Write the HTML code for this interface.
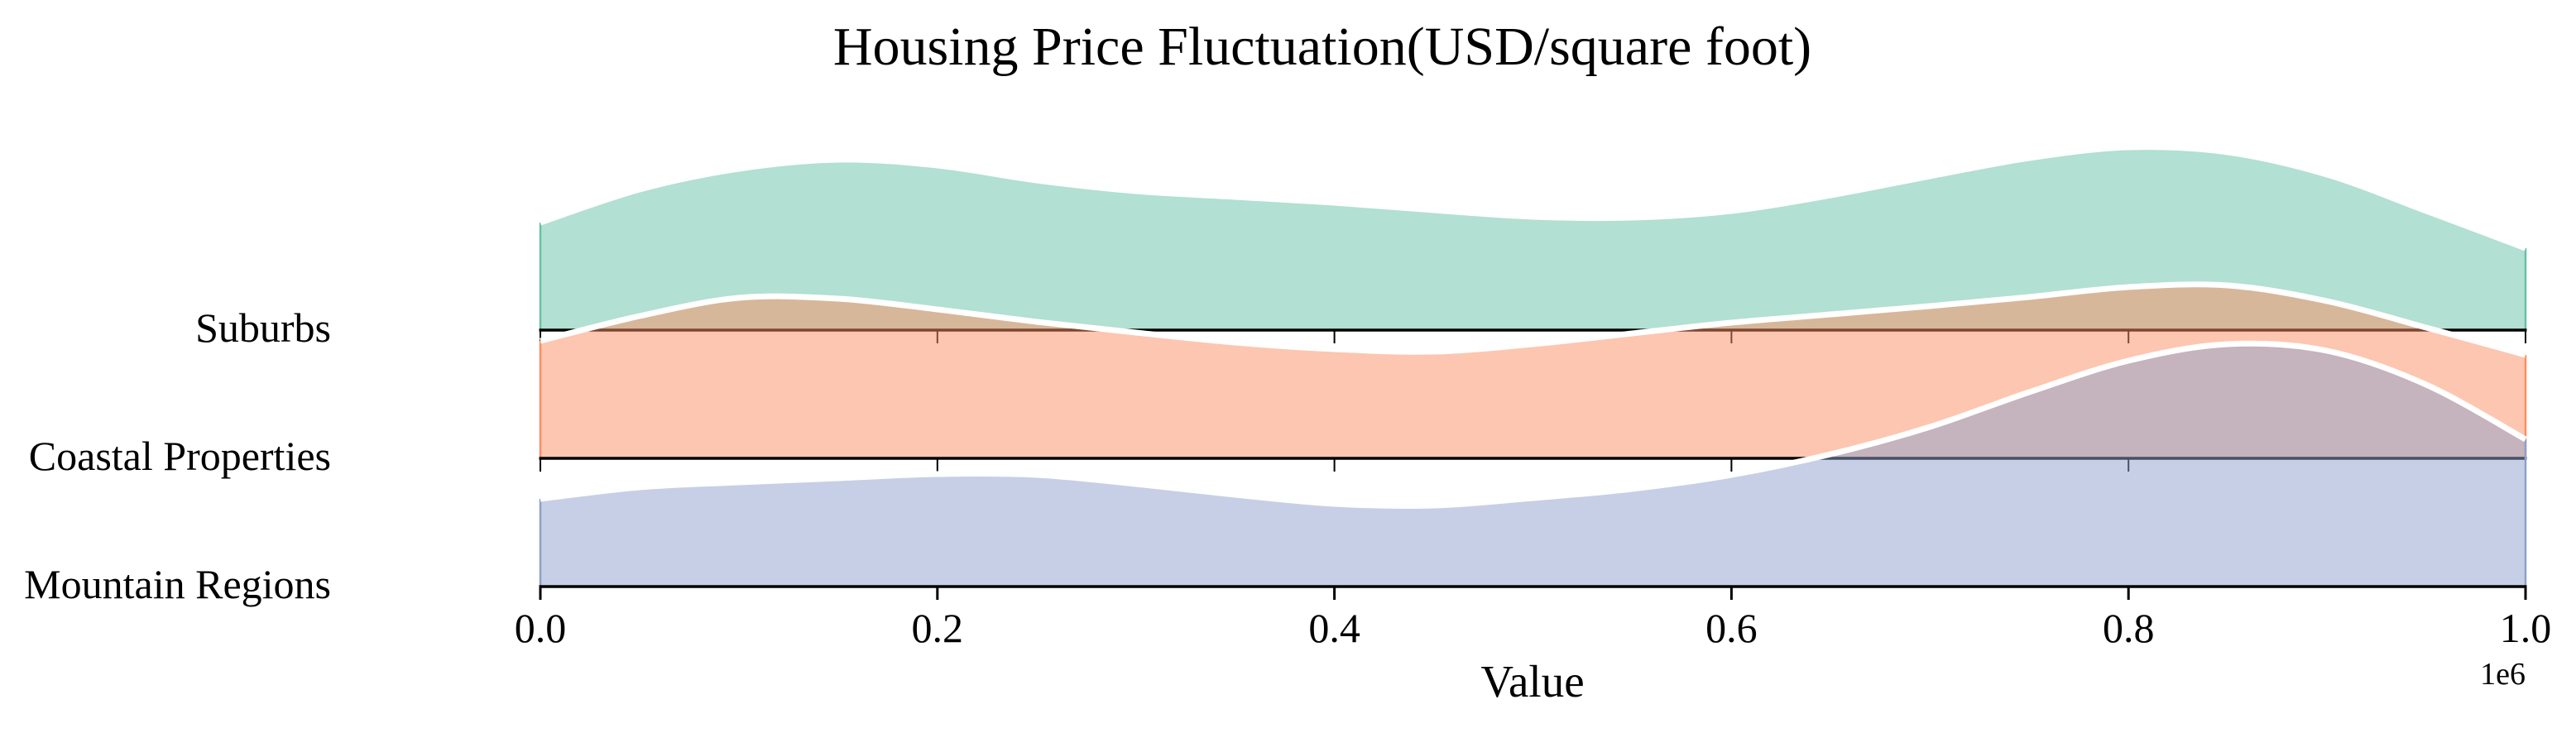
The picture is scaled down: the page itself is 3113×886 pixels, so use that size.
<!DOCTYPE html>
<html>
<head>
<meta charset="utf-8">
<style>
html,body{margin:0;padding:0;background:#fff;}
svg{display:block;}
text{font-family:"Liberation Serif","Times New Roman",serif;fill:#000;}
</style>
</head>
<body>
<svg id="chart" width="3113" height="886" viewBox="0 0 3113 886" xmlns="http://www.w3.org/2000/svg">
  <text x="1598" y="78" font-size="66" text-anchor="middle">Housing Price Fluctuation(USD/square foot)</text>
  <g id="plot"></g>
  <text x="1852" y="842" font-size="55" text-anchor="middle">Value</text>
  <text x="3052" y="827" font-size="38" text-anchor="end">1e6</text>
</svg>
<script>
// ---- data ----
const categories = ["Suburbs", "Coastal Properties", "Mountain Regions"];
const gridValues = [0,50000,100000,150000,200000,250000,300000,350000,400000,450000,500000,550000,600000,650000,700000,750000,800000,850000,900000,950000,1000000];
const suburbsDensity = [1.30,1.70,1.95,2.06,1.99,1.81,1.68,1.61,1.54,1.45,1.37,1.36,1.44,1.63,1.86,2.08,2.21,2.15,1.88,1.44,0.99];
const coastalDensity = [1.42,1.72,1.94,1.93,1.80,1.65,1.52,1.40,1.32,1.29,1.38,1.51,1.64,1.74,1.84,1.95,2.07,2.09,1.90,1.58,1.25];
const mountainDensity = [1.06,1.20,1.26,1.31,1.36,1.35,1.24,1.11,1.00,0.98,1.07,1.18,1.35,1.60,1.93,2.35,2.73,2.93,2.85,2.44,1.78];
const xTicks = [0,200000,400000,600000,800000,1000000];
const xTickLabels = ["0.0","0.2","0.4","0.6","0.8","1.0"];

// ---- layout ----
const NS = "http://www.w3.org/2000/svg";
const X0 = 653, X1 = 3052;
const baselines = [399, 554, 709];
const colors = ["#66c2a5", "#fc8d62", "#8da0cb"];
const series = [suburbsDensity, coastalDensity, mountainDensity];
const keys = ["suburbs", "coastal-properties", "mountain-regions"];
const yUnit = 100;
function xScale(v){ return X0 + (v - 0) / 1000000 * (X1 - X0); }
function yScale(d, row){ return baselines[row] - d * yUnit; }

function smoothPath(pts){
  let d = "M" + pts[0][0].toFixed(2) + "," + pts[0][1].toFixed(2);
  for (let i = 0; i < pts.length - 1; i++){
    const p0 = pts[i - 1] || pts[i], p1 = pts[i], p2 = pts[i + 1], p3 = pts[i + 2] || pts[i + 1];
    const c1x = p1[0] + (p2[0] - p0[0]) / 6, c1y = p1[1] + (p2[1] - p0[1]) / 6;
    const c2x = p2[0] - (p3[0] - p1[0]) / 6, c2y = p2[1] - (p3[1] - p1[1]) / 6;
    d += " C" + c1x.toFixed(2) + "," + c1y.toFixed(2) + " " + c2x.toFixed(2) + "," + c2y.toFixed(2) + " " + p2[0].toFixed(2) + "," + p2[1].toFixed(2);
  }
  return d;
}
function mk(tag, attrs, parent){
  const e = document.createElementNS(NS, tag);
  for (const k in attrs) e.setAttribute(k, attrs[k]);
  parent.appendChild(e);
  return e;
}

const plot = document.getElementById("plot");
for (let r = 0; r < categories.length; r++){
  const g = mk("g", {}, plot);
  
  
  const pts = gridValues.map((v, i) => [xScale(v), yScale(series[r][i], r)]);
  const curve = smoothPath(pts);
  const b = baselines[r];
  const area = mk("path", {d: curve + " L" + xScale(gridValues[gridValues.length-1]) + "," + b + " L" + xScale(gridValues[0]) + "," + b + " Z", fill: colors[r], "fill-opacity": 0.5, stroke: "none"}, g);
  
  
  const le = mk("line", {x1: pts[0][0], y1: b, x2: pts[0][0], y2: pts[0][1], stroke: colors[r], "stroke-width": 2.5}, g);
  
  
  const re = mk("line", {x1: pts[pts.length-1][0], y1: b, x2: pts[pts.length-1][0], y2: pts[pts.length-1][1], stroke: colors[r], "stroke-width": 2.5}, g);
  
  
  const line = mk("path", {d: curve, fill: "none", stroke: "#fff", "stroke-width": 7}, g);
  
  
  // axis
  const ax = mk("g", {}, g);
  
  
  const spine = mk("line", {x1: X0 - 1.5, y1: b, x2: X1 + 1.5, y2: b, stroke: "#000", "stroke-width": 3.5}, ax);
  
  
  xTicks.forEach((t, i) => {
    const tk = mk("line", {x1: xScale(t), y1: b, x2: xScale(t), y2: b + 16, stroke: "#000", "stroke-width": r === 2 ? 3 : 2}, ax);
    
    
  });
  const lab = mk("text", {x: 400, y: b + 14, "font-size": 50, "text-anchor": "end"}, plot.parentNode);
  lab.textContent = categories[r];
  
  
}
xTicks.forEach((t, i) => {
  const tl = mk("text", {x: xScale(t), y: 776, "font-size": 50, "text-anchor": "middle"}, plot);
  tl.textContent = xTickLabels[i];
  
  
});
</script>
</body>
</html>
